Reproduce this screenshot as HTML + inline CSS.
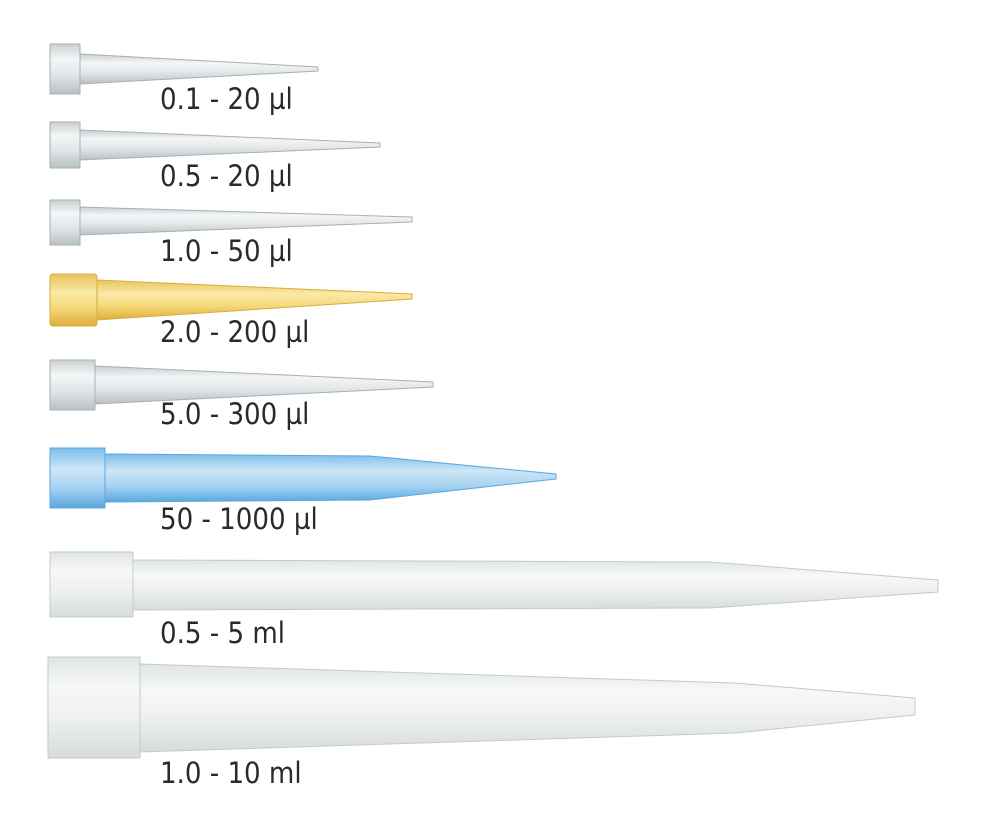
<!DOCTYPE html>
<html><head><meta charset="utf-8"><style>
html,body{margin:0;padding:0;background:#fff;}
svg{display:block}
text{font-family:"DejaVu Sans Condensed","DejaVu Sans","Liberation Sans",sans-serif;font-size:29px;fill:#2a2a2a}
</style></head><body>
<svg width="1000" height="826" viewBox="0 0 1000 826" xmlns="http://www.w3.org/2000/svg">
<defs>
<linearGradient id="g" x1="0" y1="0" x2="0" y2="1">
<stop offset="0" stop-color="#c9cfd2"/><stop offset="0.3" stop-color="#f4f6f7"/><stop offset="0.6" stop-color="#e3e7e9"/><stop offset="1" stop-color="#b9c0c3"/></linearGradient>
<linearGradient id="gl" x1="0" y1="0" x2="0" y2="1">
<stop offset="0" stop-color="#dfe4e5"/><stop offset="0.3" stop-color="#f7f8f8"/><stop offset="0.6" stop-color="#eef0f0"/><stop offset="1" stop-color="#d6dbdc"/></linearGradient>
<linearGradient id="y" x1="0" y1="0" x2="0" y2="1">
<stop offset="0" stop-color="#e8c35a"/><stop offset="0.35" stop-color="#fae9a8"/><stop offset="0.65" stop-color="#f5d878"/><stop offset="1" stop-color="#dcae3a"/></linearGradient>
<linearGradient id="b" x1="0" y1="0" x2="0" y2="1">
<stop offset="0" stop-color="#7cbde8"/><stop offset="0.35" stop-color="#cde6f7"/><stop offset="0.65" stop-color="#a9d4f2"/><stop offset="1" stop-color="#5aa8de"/></linearGradient>
</defs>
<g stroke="#a8b0b3" stroke-width="1">
<path d="M80 54 L318 67 L318 71 L80 84 Z" fill="url(#g)"/>
<rect x="50" y="44" width="30" height="50" fill="url(#g)"/>
<path d="M80 130 L380 143 L380 147 L80 160 Z" fill="url(#g)"/>
<rect x="50" y="122" width="30" height="46" fill="url(#g)"/>
<path d="M80 207 L412 217 L412 222 L80 235 Z" fill="url(#g)"/>
<rect x="50" y="200" width="30" height="45" fill="url(#g)"/>
<path d="M97 280 L412 294 L412 299 L97 320 Z" fill="url(#y)" stroke="#d9ad3c"/>
<rect x="50" y="274" width="47" height="52" rx="3" fill="url(#y)" stroke="#d9ad3c"/>
<path d="M95 366 L433 382 L433 387 L95 404 Z" fill="url(#g)"/>
<rect x="50" y="360" width="45" height="50" fill="url(#g)"/>
<path d="M105 454 L370 456 L556 474 L556 479 L370 500 L105 502 Z" fill="url(#b)" stroke="#5aa8de"/>
<rect x="50" y="448" width="55" height="60" fill="url(#b)" stroke="#5aa8de"/>
<path d="M133 560 L710 562 L938 580 L938 592 L710 608 L133 610 Z" fill="url(#gl)" stroke="#c4cacc"/>
<rect x="50" y="552" width="83" height="65" fill="url(#gl)" stroke="#c4cacc"/>
<path d="M140 664 L735 683 L915 698 L915 715 L735 733 L140 752 Z" fill="url(#gl)" stroke="#c4cacc"/>
<rect x="48" y="657" width="92" height="101" fill="url(#gl)" stroke="#c4cacc"/>
</g>
<text x="160" y="109">0.1 - 20 µl</text>
<text x="160" y="186">0.5 - 20 µl</text>
<text x="160" y="261">1.0 - 50 µl</text>
<text x="160" y="342">2.0 - 200 µl</text>
<text x="160" y="424">5.0 - 300 µl</text>
<text x="160" y="529">50 - 1000 µl</text>
<text x="160" y="643">0.5 - 5 ml</text>
<text x="160" y="783">1.0 - 10 ml</text>
</svg>
</body></html>
